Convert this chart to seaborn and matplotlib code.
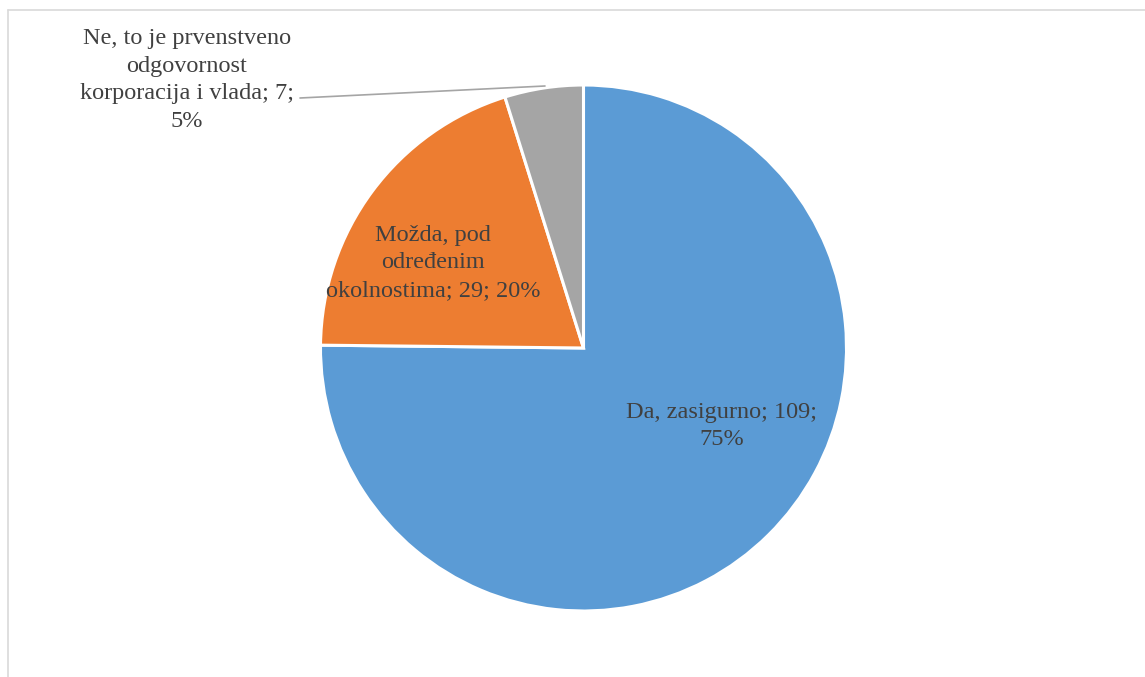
import matplotlib
matplotlib.use("Agg")
import matplotlib.pyplot as plt
import seaborn as sns

# answers and counts
labels = ["Da, zasigurno", "Možda, pod određenim okolnostima",
          "Ne, to je prvenstveno odgovornost korporacija i vlada"]
counts = [109, 29, 7]
percents = ["75%", "20%", "5%"]
colors = ["#5B9BD5", "#ED7D31", "#A5A5A5"]

sns.set_style("white")
plt.rcParams['font.family'] = ['Liberation Serif', 'DejaVu Serif']

W, H = 1145, 677
fig = plt.figure(figsize=(W / 100, H / 100), dpi=100)
ax = fig.add_axes([0, 0, 1, 1])

cx, cy, r = 583.5, H - 348, 263
wedges, _ = ax.pie(counts, colors=colors, startangle=90, counterclock=False,
                   center=(cx, cy), radius=r, frame=True,
                   wedgeprops=dict(edgecolor="white", linewidth=2.2))
ax.set_xlim(0, W)
ax.set_ylim(0, H)
ax.axis("off")

txt = dict(fontsize=17.5, color="#404040", ha="center", va="center", linespacing=1.4)
ax.text(722, H - 426, f"{labels[0]}; {counts[0]};\n{percents[0]}", **txt)
ax.text(433, H - 263, f"Možda, pod\nodređenim\nokolnostima; {counts[1]}; {percents[1]}", **txt)
ax.text(187, H - 80, f"Ne, to je prvenstveno\nodgovornost\nkorporacija i vlada; {counts[2]};\n{percents[2]}", **txt)

# leader line for the small slice
ax.plot([300, 545], [H - 98, H - 86], color="#A5A5A5", lw=1.2)

# chart frame (partially cropped)
ax.plot([8, W], [H - 10, H - 10], color="#D9D9D9", lw=1.2, clip_on=False)
ax.plot([8, 8], [H - 10, 0], color="#D9D9D9", lw=1.2, clip_on=False)

fig.savefig("out.png", dpi=100, facecolor="white")
